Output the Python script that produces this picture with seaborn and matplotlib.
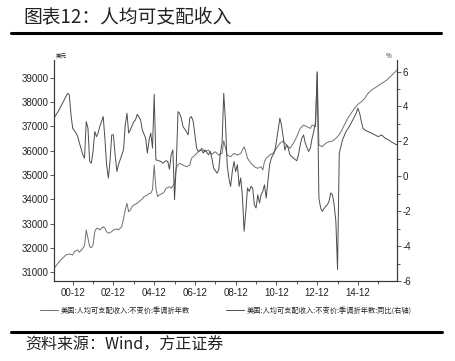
import matplotlib
matplotlib.use('Agg')
import matplotlib.pyplot as plt
import seaborn as sns
import pandas as pd
from matplotlib.lines import Line2D
from matplotlib.ticker import FixedLocator, MultipleLocator

# ---------------- data ----------------
level_dates = [
    "2000-01", "2000-05", "2000-08", "2000-10", "2000-12", "2001-01", "2001-03", "2001-04",
    "2001-06", "2001-07", "2001-08", "2001-09", "2001-10", "2001-11", "2001-12",
    "2002-01", "2002-02", "2002-03", "2002-04", "2002-06", "2002-07", "2002-08", "2002-09",
    "2002-11", "2002-12", "2003-02", "2003-03", "2003-05", "2003-06", "2003-07", "2003-08",
    "2003-09", "2003-10", "2003-11", "2003-12", "2004-02", "2004-03", "2004-05", "2004-06",
    "2004-08", "2004-09", "2004-10", "2004-11", "2004-12", "2005-01", "2005-02", "2005-03",
    "2005-05", "2005-06", "2005-07", "2005-09", "2005-10", "2005-11", "2005-12",
    "2006-01", "2006-02", "2006-03", "2006-05", "2006-07", "2006-09", "2006-10", "2006-12",
    "2007-02", "2007-04", "2007-06", "2007-08", "2007-10", "2007-12", "2008-02", "2008-04",
    "2008-05", "2008-07", "2008-09", "2008-11", "2009-01", "2009-03", "2009-05", "2009-06",
    "2009-07", "2009-09", "2009-11", "2010-01", "2010-03", "2010-04", "2010-05", "2010-06",
    "2010-08", "2010-10", "2010-12", "2011-02", "2011-04", "2011-06", "2011-08", "2011-10",
    "2011-12", "2012-02", "2012-04", "2012-06", "2012-08", "2012-09", "2012-11", "2012-12",
    "2013-01", "2013-03", "2013-05", "2013-07", "2013-09", "2013-11", "2013-12", "2014-02",
    "2014-04", "2014-06", "2014-08", "2014-10", "2014-12", "2015-02", "2015-04", "2015-06",
    "2015-08", "2015-11", "2016-02", "2016-05", "2016-08", "2016-10", "2016-11",
]
level_values = [
    31164, 31505, 31711, 31752, 31711, 31848, 31917, 31822,
    31986, 32100, 32739, 32397, 32052, 32011, 32122,
    32669, 32808, 32808, 32739, 32874, 32808, 32669, 32603,
    32669, 32739, 32780, 32739, 32874, 33219, 33561, 33836,
    33491, 33561, 33696, 33766, 33836, 33902, 34013, 34107,
    34177, 34247, 34247, 34400, 35410, 34452, 34107, 34177,
    34247, 34313, 34452, 34518, 34452, 34550, 34700,
    35300, 35410, 35480, 35410, 35340, 35410, 35685, 35821,
    35957, 36096, 35957, 36027, 35850, 35957, 35821, 35891,
    36400, 35821, 35751, 35891, 35821, 35891, 36163, 35957,
    35685, 35480, 35340, 35274, 35340, 35205, 35546, 35685,
    35821, 35891, 36096, 36302, 36400, 36233, 36096, 36302,
    36574, 36919, 37054, 36984, 36919, 37054, 36984, 39190,
    36233, 36163, 36302, 36368, 36397, 36508, 36574, 36779,
    37054, 37330, 37535, 37741, 37905, 38012, 38152, 38357,
    38493, 38628, 38768, 38904, 39109, 39245, 39315,
]

yoy_dates = [
    "2000-01", "2000-04", "2000-06", "2000-08", "2000-09", "2000-10", "2000-11", "2000-12",
    "2001-02", "2001-03", "2001-04", "2001-06", "2001-07", "2001-08", "2001-09", "2001-10",
    "2001-11", "2001-12", "2002-01", "2002-02", "2002-03", "2002-04", "2002-06", "2002-07",
    "2002-08", "2002-09", "2002-10", "2002-11", "2002-12", "2003-01", "2003-02", "2003-03",
    "2003-05", "2003-06", "2003-07", "2003-08", "2003-09", "2003-10", "2003-12", "2004-01",
    "2004-02", "2004-04", "2004-05", "2004-07", "2004-08", "2004-09", "2004-10", "2004-11",
    "2004-12", "2005-01", "2005-04", "2005-05", "2005-07", "2005-08", "2005-09", "2005-10",
    "2005-11", "2005-12", "2006-01", "2006-02", "2006-03", "2006-04", "2006-05", "2006-07",
    "2006-08", "2006-09", "2006-10", "2006-11", "2006-12", "2007-01", "2007-02", "2007-04",
    "2007-05", "2007-06", "2007-08", "2007-09", "2007-10", "2007-11", "2008-01", "2008-02",
    "2008-03", "2008-04", "2008-05", "2008-06", "2008-07", "2008-08", "2008-09", "2008-10",
    "2008-11", "2008-12", "2009-01", "2009-02", "2009-03", "2009-04", "2009-05", "2009-06",
    "2009-07", "2009-08", "2009-09", "2009-10", "2009-11", "2009-12", "2010-01", "2010-02",
    "2010-03", "2010-04", "2010-05", "2010-06", "2010-07", "2010-08", "2010-09", "2010-10",
    "2010-11", "2010-12", "2011-01", "2011-02", "2011-03", "2011-04", "2011-05", "2011-06",
    "2011-07", "2011-08", "2011-10", "2011-12", "2012-01", "2012-02", "2012-03", "2012-04",
    "2012-05", "2012-07", "2012-08", "2012-09", "2012-10", "2012-11", "2012-12", "2013-01",
    "2013-02", "2013-03", "2013-05", "2013-06", "2013-07", "2013-08", "2013-09", "2013-10",
    "2013-11", "2013-12", "2014-01", "2014-03", "2014-05", "2014-07", "2014-09", "2014-11",
    "2014-12", "2015-01", "2015-02", "2015-03", "2015-04", "2015-06", "2015-08", "2015-10",
    "2015-12", "2016-02", "2016-04", "2016-06", "2016-08", "2016-10", "2016-11",
]
yoy_values = [
    3.33, 3.80, 4.18, 4.56, 4.75, 4.66, 3.51, 2.75,
    2.47, 2.27, 1.90, 1.23, 1.04, 3.13, 2.75, 0.85,
    0.75, 1.42, 2.56, 2.27, 2.47, 2.85, 3.42, 2.18,
    0.66, -0.10, 0.85, 2.37, 2.37, 1.23, 0.27, 0.66,
    1.23, 1.51, 2.94, 3.61, 2.47, 2.66, 3.13, 3.23,
    3.55, 3.23, 2.66, 2.18, 1.33, 2.09, 2.47, 1.61,
    4.70, 0.94, 0.85, 0.75, 0.89, 0.85, 0.40, 1.23,
    1.51, -1.34, 0.66, 3.70, 3.61, 3.33, 2.85, 2.56,
    2.37, 3.33, 3.42, 3.13, 2.37, 1.61, 1.42, 1.51,
    1.33, 1.51, 1.23, 1.42, 1.04, 0.47, 0.18, 0.37,
    1.33, 1.90, 4.75, 3.13, 0.66, -0.10, -0.58, 0.27,
    0.85, 0.27, 0.66, -0.58, -0.10, -1.15, -3.15, -2.01,
    -0.67, -0.87, -0.58, -0.67, -1.63, -1.82, -1.06, -1.53,
    -1.06, -0.87, -0.49, -1.25, -0.30, 0.66, 1.04, 1.23,
    1.42, 1.99, 2.66, 3.33, 2.94, 2.27, 1.50, 1.80,
    1.61, 1.23, 1.04, 0.89, 1.23, 1.80, 2.18, 2.37,
    1.90, 1.42, 1.61, 2.18, 2.56, 3.13, 5.99, -1.25,
    -1.82, -2.01, -1.72, -1.63, -1.44, -0.96, -1.06, -1.63,
    -2.58, -5.34, 1.33, 2.09, 2.56, 2.85, 3.23, 3.61,
    3.90, 3.61, 3.13, 2.75, 2.66, 2.56, 2.47, 2.37,
    2.27, 2.37, 2.18, 2.09, 1.95, 1.84, 1.80,
]

xtick_dates = ["2000-12", "2002-12", "2004-12", "2006-12", "2008-12", "2010-12", "2012-12", "2014-12"]
xtick_labels = ["00-12", "02-12", "04-12", "06-12", "08-12", "10-12", "12-12", "14-12"]
xminor_dates = ["2001-12", "2003-12", "2005-12", "2007-12", "2009-12", "2011-12", "2013-12", "2015-12"]
left_ticks = [31000, 32000, 33000, 34000, 35000, 36000, 37000, 38000, 39000]
right_ticks = [-6, -4, -2, 0, 2, 4, 6]

title = "图表12：人均可支配收入"
source = "资料来源：Wind，方正证券"
label_level = "美国:人均可支配收入:不变价:季调折年数"
label_yoy = "美国:人均可支配收入:不变价:季调折年数:同比(右轴)"

# ---------------- figure ----------------
sns.set_theme(style="white")
plt.rcParams["font.family"] = ["Noto Sans CJK SC", "DejaVu Sans"]
plt.rcParams["axes.unicode_minus"] = False

W, H = 456, 361
fig = plt.figure(figsize=(W / 100, H / 100), dpi=100)
fig.patch.set_facecolor("white")

def fx(px):
    return px / W

def fy(py):
    return 1 - py / H

ax_l, ax_r, ax_t, ax_b = 54, 397, 60, 281
ax = fig.add_axes([fx(ax_l), fy(ax_b), (ax_r - ax_l) / W, (ax_b - ax_t) / H])
ax2 = ax.twinx()

df_level = pd.DataFrame({"date": pd.to_datetime(level_dates), "value": level_values})
df_yoy = pd.DataFrame({"date": pd.to_datetime(yoy_dates), "value": yoy_values})

sns.lineplot(data=df_level, x="date", y="value", ax=ax, color="#707070", linewidth=0.7)
sns.lineplot(data=df_yoy, x="date", y="value", ax=ax2, color="#4c4c4c", linewidth=0.7)

for a in (ax, ax2):
    a.set_xlabel("")
    a.set_ylabel("")
    a.set_facecolor("none")
    a.grid(False)

ax.set_xlim(df_level["date"].min(), df_level["date"].max())
ax.set_ylim(30640, 39730)
ax2.set_ylim(-6, 6.66)

tick_font = ["Liberation Sans Narrow", "Liberation Sans", "DejaVu Sans"]
spine_c = "#3a3a3a"
for a in (ax, ax2):
    a.spines["top"].set_visible(False)
    for s in ("left", "right", "bottom"):
        a.spines[s].set_color(spine_c)
        a.spines[s].set_linewidth(0.8)

ax.xaxis.set_major_locator(FixedLocator(pd.to_datetime(xtick_dates).map(matplotlib.dates.date2num)))
ax.xaxis.set_minor_locator(FixedLocator(pd.to_datetime(xminor_dates).map(matplotlib.dates.date2num)))
ax.set_xticklabels(xtick_labels)
ax.set_yticks(left_ticks)
ax.set_yticklabels([str(v) for v in left_ticks])
ax2.set_yticks(right_ticks)
ax2.set_yticklabels([str(v) for v in right_ticks])
ax2.yaxis.set_minor_locator(MultipleLocator(1))

ax.tick_params(axis="x", which="major", direction="out", length=3, width=0.6, color=spine_c,
               labelsize=7, labelcolor="#222222", pad=2, bottom=True)
ax.tick_params(axis="x", which="minor", direction="out", length=2, width=0.6, color=spine_c, bottom=True)
ax.tick_params(axis="y", which="major", direction="out", length=3, width=0.6, color=spine_c,
               labelsize=7, labelcolor="#222222", pad=1, left=True)
ax2.tick_params(axis="y", which="major", direction="out", length=3, width=0.6, color=spine_c,
                labelsize=7, labelcolor="#222222", pad=1, right=True)
ax2.tick_params(axis="y", which="minor", direction="out", length=2, width=0.6, color=spine_c, right=True)
for lab in ax.get_xticklabels() + ax.get_yticklabels() + ax2.get_yticklabels():
    lab.set_family(tick_font)

# unit labels
ax.text(0.005, 1.0, "美元", transform=ax.transAxes, fontsize=4, ha="left", va="bottom", color="#222222")
ax2.text(0.985, 1.0, "%", transform=ax2.transAxes, fontsize=4.5, ha="right", va="bottom", color="#222222")

# legend
fig.legend([ax.lines[0], ax2.lines[0]], [label_level, label_yoy], loc="upper left",
           bbox_to_anchor=(fx(40), fy(307)), ncol=2, frameon=False, fontsize=5.2,
           handlelength=2.5, handletextpad=0.35, columnspacing=5.0, borderaxespad=0, borderpad=0,
           labelcolor="#222222")

# title, rules, source
fig.text(fx(23), fy(17), title, fontsize=13.5, ha="left", va="center", color="#222222")
fig.add_artist(Line2D([fx(11), fx(441)], [fy(33), fy(33)], color="black", linewidth=2.2))
fig.add_artist(Line2D([fx(11), fx(442)], [fy(332), fy(332)], color="black", linewidth=2.2))
fig.text(fx(25), fy(345), source, fontsize=11.5, ha="left", va="center", color="#222222", style="italic")

fig.savefig("out.png", dpi=100, facecolor="white")
